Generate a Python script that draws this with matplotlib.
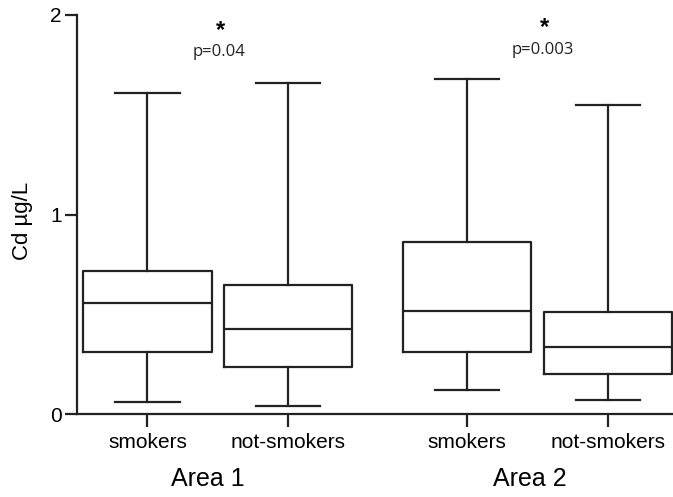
import matplotlib.pyplot as plt

plt.rcParams['font.family'] = ['Liberation Sans', 'DejaVu Sans']

# Cd µg/L summary values (min, q1, median, q3, max)
groups = ["smokers", "not-smokers", "smokers", "not-smokers"]
areas = ["Area 1", "Area 2"]
mins = [0.059, 0.040, 0.119, 0.069]
q1s = [0.309, 0.234, 0.309, 0.200]
medians = [0.555, 0.428, 0.518, 0.334]
q3s = [0.715, 0.648, 0.862, 0.510]
maxs = [1.609, 1.658, 1.678, 1.547]
pvals = ["p=0.04", "p=0.003"]

positions = [1, 2, 3.279, 4.28]

stats = []
for i in range(len(groups)):
    stats.append({"whislo": mins[i], "q1": q1s[i], "med": medians[i],
                  "q3": q3s[i], "whishi": maxs[i], "fliers": []})

fig = plt.figure(figsize=(6.73, 4.97), dpi=100)
ax = fig.add_axes([77 / 673, 1 - 414 / 497, 1 - 77 / 673, 399 / 497])

lw = 1.6
ax.bxp(stats, positions=positions, widths=0.915, showfliers=False,
       boxprops=dict(color="#222222", linewidth=lw),
       medianprops=dict(color="#222222", linewidth=lw),
       whiskerprops=dict(color="#222222", linewidth=lw),
       capprops=dict(color="#222222", linewidth=lw))

ax.set_xlim(0.498, 4.745)
ax.set_ylim(0, 2)
ax.set_yticks([0, 1, 2])
ax.set_xticks(positions)
ax.set_xticklabels(groups, fontsize=15)
ax.tick_params(axis="y", labelsize=15, length=9, width=lw, pad=2,
               color="#222222")
ax.tick_params(axis="x", length=9, width=lw, pad=5, color="#222222")

for side in ["top", "right"]:
    ax.spines[side].set_visible(False)
for side in ["left", "bottom"]:
    ax.spines[side].set_linewidth(lw)
    ax.spines[side].set_color("#222222")

ax.set_ylabel("Cd µg/L", fontsize=16)
ax.yaxis.set_label_coords(-0.074, 0.484)

# significance marks
star_x = [1.523, 3.829]
star_y = [1.92, 1.935]
p_y = [1.815, 1.825]
for i, p in enumerate(pvals):
    ax.text(star_x[i], star_y[i], "*", ha="center", va="center", fontsize=17,
            fontweight="bold")
    ax.text(star_x[i] - 0.01, p_y[i], p, ha="center", va="center", fontsize=12,
            family=["Open Sans", "DejaVu Sans"], color="#222222")

# area labels under the groups
area_x = [1.43, 3.722]
for x, a in zip(area_x, areas):
    ax.text(x, -0.326, a, ha="center", va="center", fontsize=18,
            clip_on=False)

fig.savefig("out.png", dpi=100)
